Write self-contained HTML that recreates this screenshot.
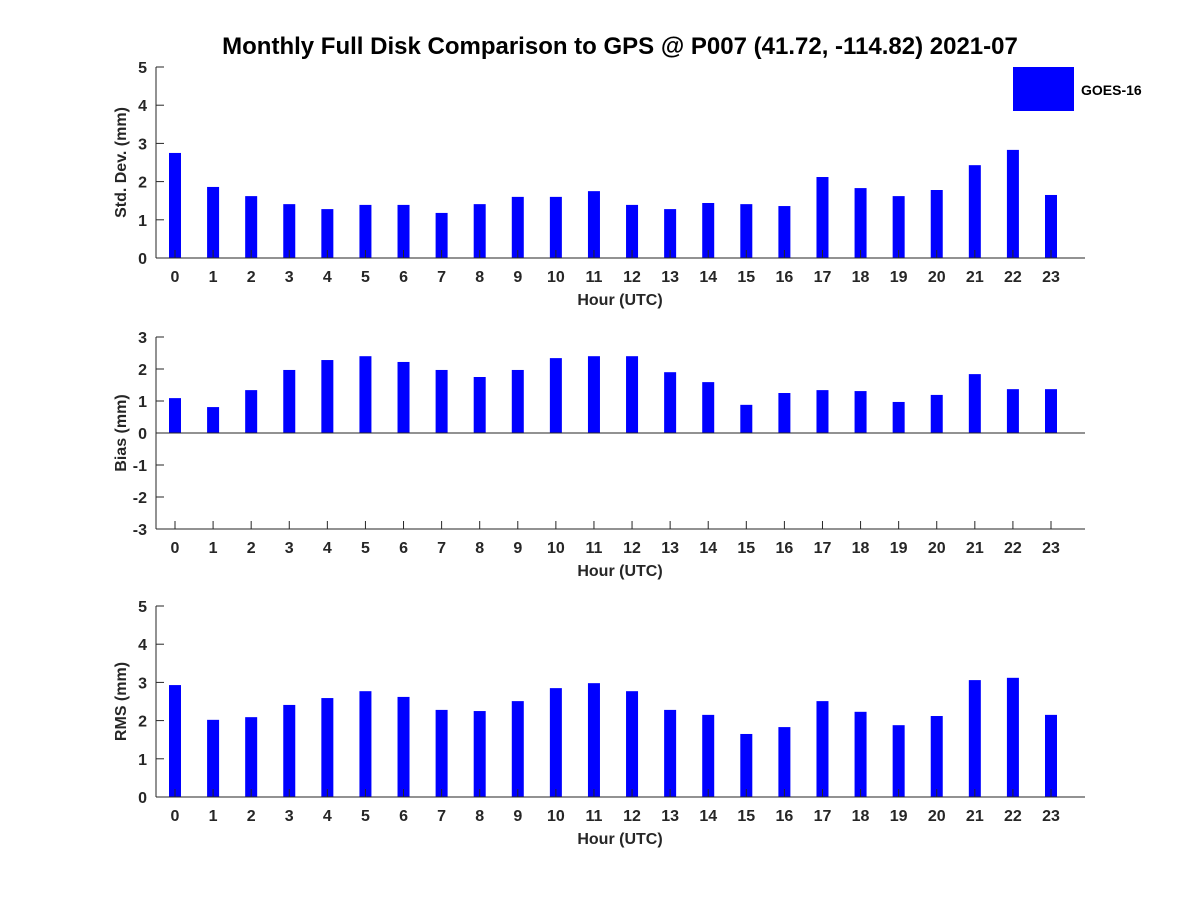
<!DOCTYPE html>
<html><head><meta charset="utf-8"><style>
body{margin:0;background:#fff;}
svg text{font-family:"Liberation Sans","DejaVu Sans",sans-serif;font-weight:bold;fill:#262626;}
</style></head><body>
<svg id="chart" width="1200" height="900" xmlns="http://www.w3.org/2000/svg">
<rect width="1200" height="900" fill="#fff"/>
<text x="620" y="54" text-anchor="middle" font-size="24" style="fill:#000">Monthly Full Disk Comparison to GPS @ P007 (41.72, -114.82) 2021-07</text>
<g>
<rect x="1013" y="67" width="61" height="44" fill="#0000ff"/>
<text x="1081" y="95" font-size="14" style="fill:#000">GOES-16</text>
</g>
</svg>
<script>
const hours=[0,1,2,3,4,5,6,7,8,9,10,11,12,13,14,15,16,17,18,19,20,21,22,23];
const stdDev=[2.75,1.86,1.62,1.41,1.28,1.39,1.39,1.18,1.41,1.6,1.6,1.75,1.39,1.28,1.44,1.41,1.36,2.12,1.83,1.62,1.78,2.43,2.83,1.65];
const bias=[1.09,0.81,1.34,1.97,2.28,2.4,2.22,1.97,1.75,1.97,2.34,2.4,2.4,1.9,1.59,0.88,1.25,1.34,1.31,0.97,1.19,1.84,1.37,1.37];
const rms=[2.93,2.02,2.09,2.41,2.59,2.77,2.62,2.28,2.25,2.51,2.85,2.98,2.77,2.28,2.15,1.65,1.83,2.51,2.23,1.88,2.12,3.06,3.12,2.15];
const stdTicks=[0,1,2,3,4,5];
const biasTicks=[-3,-2,-1,0,1,2,3];
const rmsTicks=[0,1,2,3,4,5];
const svg=document.getElementById('chart');
const NS='http://www.w3.org/2000/svg';
function mk(tag,attrs,parent){const e=document.createElementNS(NS,tag);for(const k in attrs)e.setAttribute(k,attrs[k]);(parent||svg).appendChild(e);return e;}
const L=156,R=1085;
const xS=h=>175+h*(1051-175)/23;
function panel(name,top,bottom,ymin,ymax,ticks,vals,ylabel){
  const g=mk('g',{});
  
  
  const yS=v=>bottom-(v-ymin)/(ymax-ymin)*(bottom-top);
  const y0=yS(Math.max(0,ymin));
  vals.forEach((v,i)=>{
    const a=yS(v),b=y0;
    const r=mk('rect',{x:xS(hours[i])-6,y:Math.min(a,b),width:12,height:Math.abs(b-a),fill:'#0000ff'},g);
    
    
  });
  const ax=mk('line',{x1:L,y1:top,x2:L,y2:bottom,stroke:'#262626','stroke-width':1},g);
  
  
  const bx=mk('line',{x1:L,y1:y0,x2:R,y2:y0,stroke:'#262626','stroke-width':1},g);
  
  
  ticks.forEach(t=>{
    const y=yS(t);
    mk('line',{x1:L,y1:y,x2:L+8,y2:y,stroke:'#262626'},g);
    const tx=mk('text',{x:L-9,y:y+6,'text-anchor':'end','font-size':16},g);
    tx.textContent=t;
    
    
  });
  hours.forEach(h=>{
    const x=xS(h);
    if(ymin<0) mk('line',{x1:x,y1:bottom,x2:x,y2:bottom-8,stroke:'#262626'},g);
    else mk('line',{x1:x,y1:bottom,x2:x,y2:bottom-8,stroke:'#262626'},g);
    const tx=mk('text',{x:x,y:bottom+24,'text-anchor':'middle','font-size':16},g);
    tx.textContent=h;
    
    
  });
  if(ymin<0){const bl=mk('line',{x1:L,y1:bottom,x2:R,y2:bottom,stroke:'#262626'},g);
    
    }
  const xl=mk('text',{x:620,y:bottom+47,'text-anchor':'middle','font-size':16},g);
  xl.textContent='Hour (UTC)';
  
  
  const cy=(top+bottom)/2;
  const yl=mk('text',{x:126,y:cy,'text-anchor':'middle','font-size':16,transform:'rotate(-90 126 '+cy+')'},g);
  yl.textContent=ylabel;
  
  
}
panel('std-dev',67,258,0,5,stdTicks,stdDev,'Std. Dev. (mm)');
panel('bias',337,529,-3,3,biasTicks,bias,'Bias (mm)');
panel('rms',606,797,0,5,rmsTicks,rms,'RMS (mm)');
</script>
</body></html>
